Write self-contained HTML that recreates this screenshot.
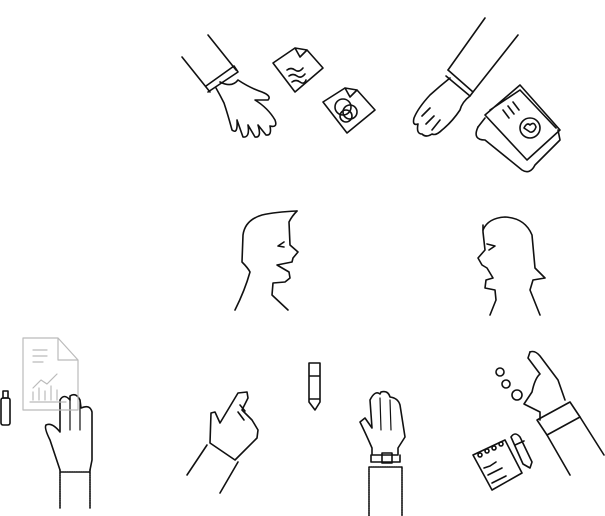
<!DOCTYPE html>
<html><head><meta charset="utf-8"><style>html,body{margin:0;padding:0;background:#fff}svg{display:block}</style></head>
<body>
<svg width="605" height="516" viewBox="0 0 605 516" xmlns="http://www.w3.org/2000/svg">
<g fill="none" stroke="#111" stroke-width="1.6" stroke-linejoin="round" stroke-linecap="round">
<!-- top left arm -->
<path d="M182,57 L210,92 M208,35 L236,70"/>
<path d="M208,92 L238,72 L234,66 L206,86"/>
<path d="M220,82 Q232,88 238,80 Q250,88 262,92 Q272,96 268,100 L255,100 Q268,108 275,120 Q278,128 270,126 Q272,136 266,135 L258,125 Q262,138 255,137 L248,125 Q250,138 243,137 L237,120 Q238,135 232,130 Q228,115 224,103 Q220,95 216,88"/>
<!-- documents -->
<path d="M273,63 L295,48 L307,50 L323,68 L295,92 Z M295,48 L300,57 L307,50"/>
<path d="M287,70 q4,-3 8,0 t8,-2 M289,76 q4,-3 8,0 t8,-2 M292,82 q4,-3 8,0 t6,-2"/>
<path d="M323,102 L345,88 L357,90 L375,110 L347,133 Z M345,88 L350,97 L357,90"/>
<circle cx="343" cy="107" r="8"/><circle cx="350" cy="112" r="7"/><circle cx="346" cy="116" r="6"/>
<!-- top right arm -->
<path d="M485,18 L448,70 M518,35 L473,92"/>
<path d="M448,70 L473,92 L470,96 L446,76"/>
<path d="M450,78 Q440,86 430,95 Q418,108 414,118 Q412,126 418,124 Q416,134 422,134 Q426,138 432,134 Q436,136 442,130 Q452,122 460,110 Q462,102 470,96"/>
<path d="M422,116 L430,108 M426,124 L434,116 M432,130 L440,120"/>
<!-- book -->
<path d="M485,115 L520,85 L560,130 L527,160 Z M490,110 L520,90 L556,128"/>
<path d="M478,127 Q472,140 485,140 L522,170 Q530,175 535,165 L560,140 L558,130"/>
<path d="M478,127 L485,118"/>
<circle cx="530" cy="128" r="10"/>
<path d="M524,128 q3,-6 6,-3 q4,-4 6,2 q-2,6 -6,5 z"/>
<path d="M503,110 l6,8 M508,106 l6,8 M513,102 l6,8"/>
<!-- man -->
<path d="M297,211 Q275,212 262,215 Q245,220 243,235 L242,262 Q248,268 250,272 Q245,290 235,310"/>
<path d="M297,211 Q292,216 289,222 L290,245 L298,252 L293,258 L292,262 L277,265 L289,272 L290,278 L285,282 L273,283 L272,295 L288,310"/>
<path d="M284,242 L278,246 L284,247"/>
<!-- woman -->
<path d="M483,230 Q488,218 505,217 Q525,218 532,235 L535,268 L545,278 L533,280 L530,290 L540,315"/>
<path d="M483,225 L483,232 L485,250 L478,258 L482,265 L487,268 L493,278 L486,280 L485,288 L495,290 L496,300 L490,315"/>
<path d="M487,244 L495,246 L489,250"/>
<!-- pen -->
<path d="M309,363 L320,363 L320,402 L315,410 L309,402 Z M309,376 L320,376 M309,399 L320,399"/>
<!-- bottom left hand -->
<path d="M60,470 L60,508 M90,470 L90,508 M60,472 L90,472" stroke-dasharray="1.5 0.8"/>
<path d="M60,470 Q55,455 50,440 Q44,428 46,425 Q52,422 60,432 L60,400 Q64,393 70,400 L70,396 Q76,392 80,400 L81,408 Q90,404 92,412 L92,460 L90,470"/>
<path d="M70,400 L70,430 M80,400 L80,430" stroke-width="1.2"/>
<!-- USB -->
<rect x="1" y="398" width="9" height="27" rx="2"/><rect x="3" y="391" width="5" height="7"/>
<!-- gray document -->
<g stroke="#bbb" stroke-width="1.2">
<path d="M23,338 L58,338 L78,360 L78,410 L23,410 Z M58,338 L58,360 L78,360"/>
<path d="M33,350 h14 M33,356 h14 M33,362 h10 M33,388 l8,-8 l6,4 l10,-10 M33,400 v-8 M39,400 v-12 M45,400 v-9 M51,400 v-14 M57,400 v-10 M30,402 h36"/>
</g>
<!-- pointing hand -->
<path d="M207,445 L187,475 M238,462 L220,493"/>
<path d="M210,443 L211,413 L215,412 L220,423 L238,393 L247,392 L248,398 L242,410 L252,420 L258,430 L257,438 L235,460 Z"/>
<path d="M240,405 l5,6 M238,412 l6,8"/>
<!-- raised hand with watch -->
<path d="M372,448 Q365,432 360,422 L365,418 L372,428 L370,400 Q375,390 380,394 L381,392 Q388,390 390,397 Q398,398 400,405 L405,437 L398,448 L398,455 L372,455 Z"/>
<path d="M380,398 L381,430 M390,400 L391,430" stroke-width="1.2"/>
<path d="M371,455 L371,462 L400,462 L400,455 M382,453 h10 v10 h-10 z"/>
<path d="M369,516 L369,467 L402,467 L402,516" stroke-dasharray="1.5 0.8"/>
<!-- right arm + hand -->
<path d="M530,352 Q535,350 540,356 L552,372 L558,380 L565,400"/>
<path d="M530,352 L528,358 L540,374 Q535,378 532,392 L524,404 L540,412 L540,420"/>
<path d="M537,420 L570,402 L580,417 L547,435 Z"/>
<path d="M547,435 L570,475 M580,417 L604,455"/>
<circle cx="500" cy="372" r="4"/><circle cx="506" cy="384" r="4"/><circle cx="517" cy="395" r="5"/>
<!-- notebook -->
<path d="M473,455 L505,440 L522,473 L492,490 Z"/>
<circle cx="480" cy="455" r="2"/><circle cx="487" cy="451" r="2"/><circle cx="494" cy="448" r="2"/><circle cx="501" cy="444" r="2"/>
<path d="M484,468 l6,-2 l6,-4 M488,475 l6,-3 l8,-4 M492,483 l6,-3 l8,-4"/>
<!-- pen right -->
<path d="M511,437 Q515,431 520,437 L532,462 L530,468 L523,464 Z M515,445 l9,-4"/>
</g>
</svg>
</body></html>
